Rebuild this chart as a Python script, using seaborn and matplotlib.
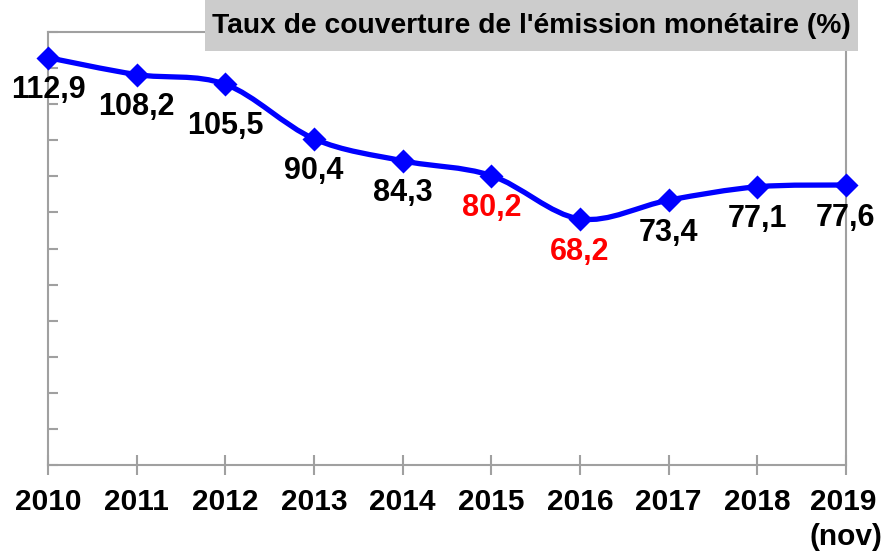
import numpy as np
import pandas as pd
import seaborn as sns
import matplotlib
matplotlib.use("Agg")
import matplotlib.pyplot as plt
from matplotlib.path import Path
from matplotlib.patches import PathPatch, Rectangle

# data
years = ["2010", "2011", "2012", "2013", "2014", "2015", "2016", "2017", "2018", "2019\n(nov)"]
taux = [112.9, 108.2, 105.5, 90.4, 84.3, 80.2, 68.2, 73.4, 77.1, 77.6]
label_txt = ["112,9", "108,2", "105,5", "90,4", "84,3", "80,2", "68,2", "73,4", "77,1", "77,6"]
label_col = ["black", "black", "black", "black", "black", "red", "red", "black", "black", "black"]

sns.set_style("white")
plt.rcParams['font.family'] = ['Liberation Sans', 'DejaVu Sans']
plt.rcParams['text.color'] = 'black'
plt.rcParams['xtick.labelcolor'] = 'black'

df = pd.DataFrame({"pos": np.arange(len(years)), "taux": taux})

fig = plt.figure(figsize=(8.81, 5.52), dpi=100)
ax = fig.add_axes([48 / 881, 87 / 552, 798 / 881, 433 / 552])

# smoothed line (bezier through the points, like excel "smoothed line")
pts = df[["pos", "taux"]].to_numpy(dtype=float)
verts = [tuple(pts[0])]
codes = [Path.MOVETO]
n = len(pts)
for i in range(n - 1):
    p0 = pts[max(i - 1, 0)]
    p1 = pts[i]
    p2 = pts[i + 1]
    p3 = pts[min(i + 2, n - 1)]
    c1 = p1 + (p2 - p0) / 6
    c2 = p2 - (p3 - p1) / 6
    verts += [tuple(c1), tuple(c2), tuple(p2)]
    codes += [Path.CURVE4] * 3
ax.add_patch(PathPatch(Path(verts, codes), facecolor="none", edgecolor="#0000FF",
                       lw=3.8, capstyle="round", joinstyle="round", zorder=3))

sns.scatterplot(data=df, x="pos", y="taux", marker="D", s=150, color="#0000FF",
                edgecolor="#0000FF", linewidth=0, zorder=4, ax=ax, clip_on=False)

# value labels
for i, v in enumerate(taux):
    off = -30 if i == 2 else -23.5
    ax.annotate(label_txt[i], (i, v), xytext=(0, off), textcoords="offset points",
                ha="center", va="center", fontsize=22, fontweight="bold",
                color=label_col[i], zorder=5, annotation_clip=False)

ax.set_xlim(0, 9)
ax.set_ylim(0, 120)
ax.set_xticks(range(len(years)))
ax.set_xticklabels(years, fontsize=21.5, fontweight="bold", color="black")
for t in ax.get_xticklabels():
    t.set_multialignment("left")
    t.set_linespacing(1.3)
ax.set_yticks(np.arange(0, 121, 10))
ax.set_yticklabels([])
ax.set_xlabel("")
ax.set_ylabel("")

ax.tick_params(axis="x", direction="inout", length=14.4, width=1.5, color="#A0A0A0",
               pad=9.5, bottom=True)
ax.tick_params(axis="y", direction="in", length=7.2, width=1.5, color="#A0A0A0", left=True)
for s in ax.spines.values():
    s.set_color("#A0A0A0")
    s.set_linewidth(1.5)

# title box
fig.patches.append(Rectangle((205 / 881, 501 / 552), 653 / 881, 51 / 552,
                             transform=fig.transFigure, facecolor="#CCCCCC",
                             edgecolor="none", zorder=10))
fig.text(531 / 881, 1 - 26 / 552, "Taux de couverture de l'émission monétaire (%)",
         ha="center", va="center", fontsize=20.3, fontweight="bold", color="black", zorder=11)

fig.savefig("out.png", dpi=100)
